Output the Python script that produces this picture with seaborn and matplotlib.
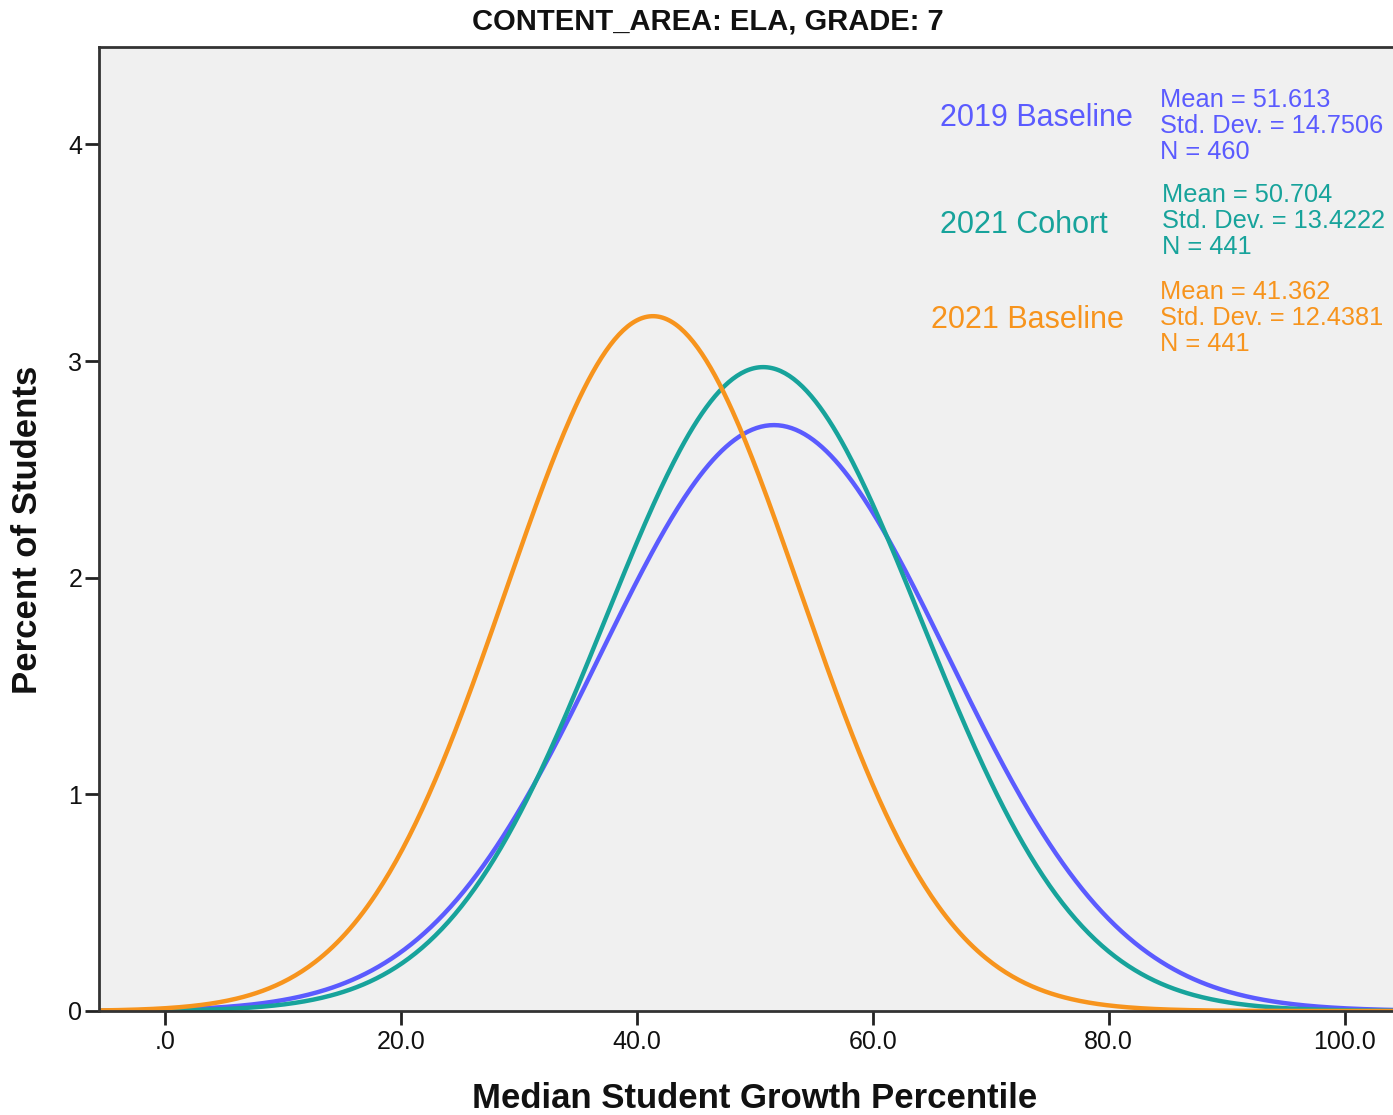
import numpy as np
import pandas as pd
import matplotlib
matplotlib.use("Agg")
import matplotlib.pyplot as plt
import seaborn as sns

# Fitted normal curves for median student growth percentile
groups = ["2019 Baseline", "2021 Cohort", "2021 Baseline"]
means = [51.613, 50.704, 41.362]
std_devs = [14.7506, 13.4222, 12.4381]
counts = [460, 441, 441]
colors = ["#5B5BFF", "#17A39B", "#F7941D"]

x_ticks = [0, 20, 40, 60, 80, 100]
x_tick_labels = [".0", "20.0", "40.0", "60.0", "80.0", "100.0"]
y_ticks = [0, 1, 2, 3, 4]

sns.set_theme(style="white")
plt.rcParams["font.family"] = ["Liberation Sans", "DejaVu Sans"]

W, H = 1393, 1115
fig = plt.figure(figsize=(W / 100, H / 100), dpi=100)
ax = fig.add_axes([99 / W, 1 - 1011 / H, 1 - 99 / W, (1011 - 47) / H])
ax.set_facecolor("#F0F0F0")

grid = np.linspace(-6, 105, 600)
frames = []
for g, m, s in zip(groups, means, std_devs):
    pct = 100 * np.exp(-0.5 * ((grid - m) / s) ** 2) / (s * np.sqrt(2 * np.pi))
    frames.append(pd.DataFrame({"x": grid, "pct": pct, "group": g}))
df = pd.concat(frames, ignore_index=True)

sns.lineplot(data=df, x="x", y="pct", hue="group", hue_order=groups,
             palette=colors, linewidth=3.2, legend=False, ax=ax)

ax.set_xlim(-5.6, 104.1)
ax.set_ylim(0, 4.45)
ax.set_xticks(x_ticks)
ax.set_xticklabels(x_tick_labels)
ax.set_yticks(y_ticks)
ax.tick_params(axis="both", which="major", bottom=True, left=True, direction="out",
               length=10, width=2, color="#222222", labelsize=18, labelcolor="#111111")
ax.tick_params(axis="x", pad=4)
ax.tick_params(axis="y", pad=2)
ax.set_xlabel("")
ax.set_ylabel("")

for side in ["left", "bottom", "top"]:
    ax.spines[side].set_visible(True)
    ax.spines[side].set_color("#333333")
    ax.spines[side].set_linewidth(2)
ax.spines["right"].set_visible(False)

fig.text(708 / W, 1 - 22 / H, "CONTENT_AREA: ELA, GRADE: 7", ha="center", va="center",
         fontsize=21, fontweight="bold", color="#111111")
fig.text(755 / W, 1 - 1098 / H, "Median Student Growth Percentile", ha="center", va="center",
         fontsize=25, fontweight="bold", color="#111111")
fig.text(28 / W, 1 - 530 / H, "Percent of Students", ha="center", va="center",
         rotation=90, fontsize=25, fontweight="bold", color="#111111")

# Group labels with their summary statistics
name_pos = [(940, 118), (940, 225), (931, 320)]
stat_pos = [(1160, 126), (1162, 221), (1160, 318)]
for g, m, s, n, c, (nx, ny), (sx, sy) in zip(groups, means, std_devs, counts, colors,
                                              name_pos, stat_pos):
    fig.text(nx / W, 1 - ny / H, g, ha="left", va="center", fontsize=22, color=c)
    fig.text(sx / W, 1 - sy / H,
             f"Mean = {m:.3f}\nStd. Dev. = {s:.4f}\nN = {n}",
             ha="left", va="center", fontsize=18.3, color=c, linespacing=1.1)

fig.savefig("out.png", dpi=100)
